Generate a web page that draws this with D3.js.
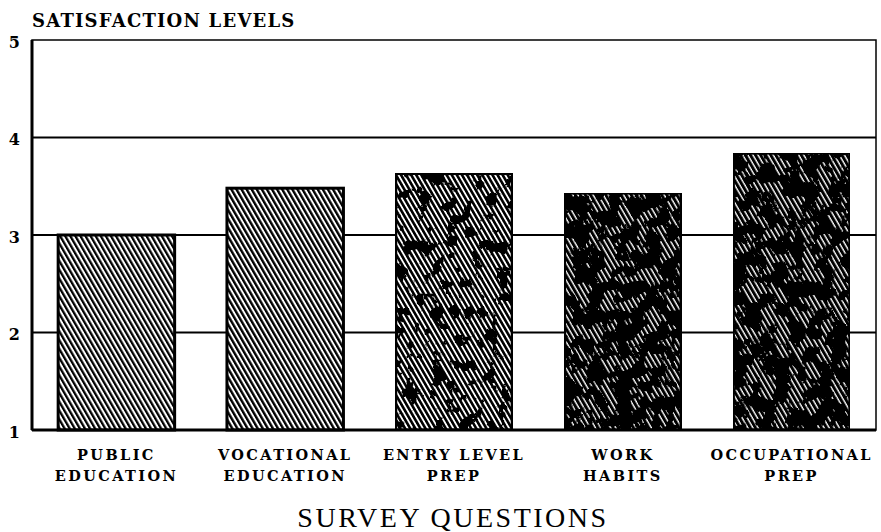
<!DOCTYPE html>
<html>
<head>
<meta charset="utf-8">
<script src="https://cdn.jsdelivr.net/npm/d3@7"></script>
<style>
  body { margin: 0; background: #fff; }
  svg text { fill: #000; }
  .tick-label { font-family: "DejaVu Serif", serif; font-weight: bold; font-size: 16px; }
  .cat-label { font-family: "DejaVu Serif", serif; font-weight: bold; font-size: 14.5px; letter-spacing: 2.4px; }
  .y-title { font-family: "DejaVu Serif", serif; font-weight: bold; font-size: 18px; letter-spacing: 1.2px; }
  .x-title { font-family: "Liberation Serif", serif; font-size: 28px; letter-spacing: 2.5px; }
</style>
</head>
<body>
<div class="chart"></div>
<script>
// survey satisfaction chart

var questions = ["PUBLIC|EDUCATION", "VOCATIONAL|EDUCATION", "ENTRY LEVEL|PREP", "WORK|HABITS", "OCCUPATIONAL|PREP"];
var satisfaction = [3.0, 3.48, 3.63, 3.43, 3.84];
var yTicks = [1, 2, 3, 4, 5];

var svgWidth = 881;
var svgHeight = 532;
var margin = { top: 40, right: 5, bottom: 102, left: 32 };
var width = svgWidth - margin.left - margin.right;
var height = svgHeight - margin.top - margin.bottom;

var svg = d3.select(".chart")
  .append("svg")
  .attr("width", svgWidth)
  .attr("height", svgHeight);

var defs = svg.append("defs");

// hatch fills, darker to the right (grain = photocopy smudge)
var shades = [
  { id: "h0", line: 2.3, grain: null, freq: 0 },
  { id: "h1", line: 2.4, grain: null, freq: 0 },
  { id: "h2", line: 2.6, grain: 0.55, freq: 0.075 },
  { id: "h3", line: 3.0, grain: 0.43, freq: 0.07 },
  { id: "h4", line: 3.0, grain: 0.44, freq: 0.07 }
];

shades.forEach(function(s, i) {
  var p = defs.append("pattern")
    .attr("id", s.id)
    .attr("patternUnits", "userSpaceOnUse")
    .attr("width", 4.4)
    .attr("height", 10)
    .attr("patternTransform", "rotate(-30)");
  p.append("rect").attr("width", 4.4).attr("height", 10).attr("fill", "#fff");
  p.append("rect").attr("width", s.line).attr("height", 10).attr("fill", "#000");

  if (s.grain) {
    var f = defs.append("filter")
      .attr("id", "g" + i)
      .attr("x", 0).attr("y", 0).attr("width", 1).attr("height", 1);
    f.append("feTurbulence")
      .attr("type", "fractalNoise")
      .attr("baseFrequency", s.freq)
      .attr("numOctaves", 4)
      .attr("seed", 7 + i * 3)
      .attr("result", "noise");
    f.append("feColorMatrix")
      .attr("in", "noise")
      .attr("type", "matrix")
      .attr("values", "0 0 0 0 0  0 0 0 0 0  0 0 0 0 0  16 0 0 0 " + (-16 * s.grain))
      .attr("result", "spots");
    var m = f.append("feMerge");
    m.append("feMergeNode").attr("in", "SourceGraphic");
    m.append("feMergeNode").attr("in", "spots");
  }
});

var chart = svg.append("g")
  .attr("transform", "translate(" + margin.left + "," + margin.top + ")");

var xBandScale = d3.scaleBand()
  .domain(questions)
  .range([0, width])
  .paddingInner(0.31)
  .paddingOuter(0.155);

var yLinearScale = d3.scaleLinear()
  .domain([1, 5])
  .range([height, 0]);

// grid lines
chart.selectAll(".grid")
  .data(yTicks.filter(function(d) { return d > 1 && d < 5; }))
  .enter().append("line")
  .attr("x1", 0)
  .attr("x2", width)
  .attr("y1", function(d) { return yLinearScale(d); })
  .attr("y2", function(d) { return yLinearScale(d); })
  .attr("stroke", "#000")
  .attr("stroke-width", 2);

// bars
chart.selectAll(".bar")
  .data(questions)
  .enter().append("rect")
  .attr("class", "bar")
  .attr("x", function(d) { return xBandScale(d); })
  .attr("y", function(d, i) { return yLinearScale(satisfaction[i]); })
  .attr("width", xBandScale.bandwidth())
  .attr("height", function(d, i) { return height - yLinearScale(satisfaction[i]); })
  .attr("fill", function(d, i) { return "url(#" + shades[i].id + ")"; })
  .attr("filter", function(d, i) { return shades[i].grain ? "url(#g" + i + ")" : null; })
  .attr("stroke", "#000")
  .attr("stroke-width", 3);

// frame
chart.append("rect")
  .attr("width", width)
  .attr("height", height)
  .attr("fill", "none")
  .attr("stroke", "#000")
  .attr("stroke-width", 1.5);
chart.append("line")
  .attr("x1", 0).attr("x2", 0).attr("y1", 0).attr("y2", height)
  .attr("stroke", "#000").attr("stroke-width", 3);
chart.append("line")
  .attr("x1", 0).attr("x2", width).attr("y1", height).attr("y2", height)
  .attr("stroke", "#000").attr("stroke-width", 3);

// y axis, labels only
var leftAxis = d3.axisLeft(yLinearScale)
  .tickValues(yTicks)
  .tickSize(0)
  .tickPadding(12)
  .tickFormat(d3.format("d"));

var yAxis = chart.append("g").call(leftAxis);
yAxis.select(".domain").remove();
yAxis.selectAll("text")
  .attr("class", "tick-label")
  .attr("dy", "0.45em")
  .attr("font-family", null)
  .attr("font-size", null);

// category labels
var catLabels = chart.selectAll(".cat")
  .data(questions)
  .enter().append("text")
  .attr("class", "cat-label")
  .attr("text-anchor", "middle")
  .attr("transform", function(d) {
    return "translate(" + (xBandScale(d) + xBandScale.bandwidth() / 2) + "," + (height + 30) + ")";
  });

catLabels.selectAll("tspan")
  .data(function(d) { return d.split("|"); })
  .enter().append("tspan")
  .attr("x", 0)
  .attr("dy", function(d, i) { return i === 0 ? 0 : 21; })
  .text(function(d) { return d; });

// axis titles
svg.append("text")
  .attr("class", "y-title")
  .attr("x", 32)
  .attr("y", 27)
  .text("SATISFACTION LEVELS");

svg.append("text")
  .attr("class", "x-title")
  .attr("x", 453)
  .attr("y", 527)
  .attr("text-anchor", "middle")
  .text("SURVEY QUESTIONS");
</script>
</body>
</html>
